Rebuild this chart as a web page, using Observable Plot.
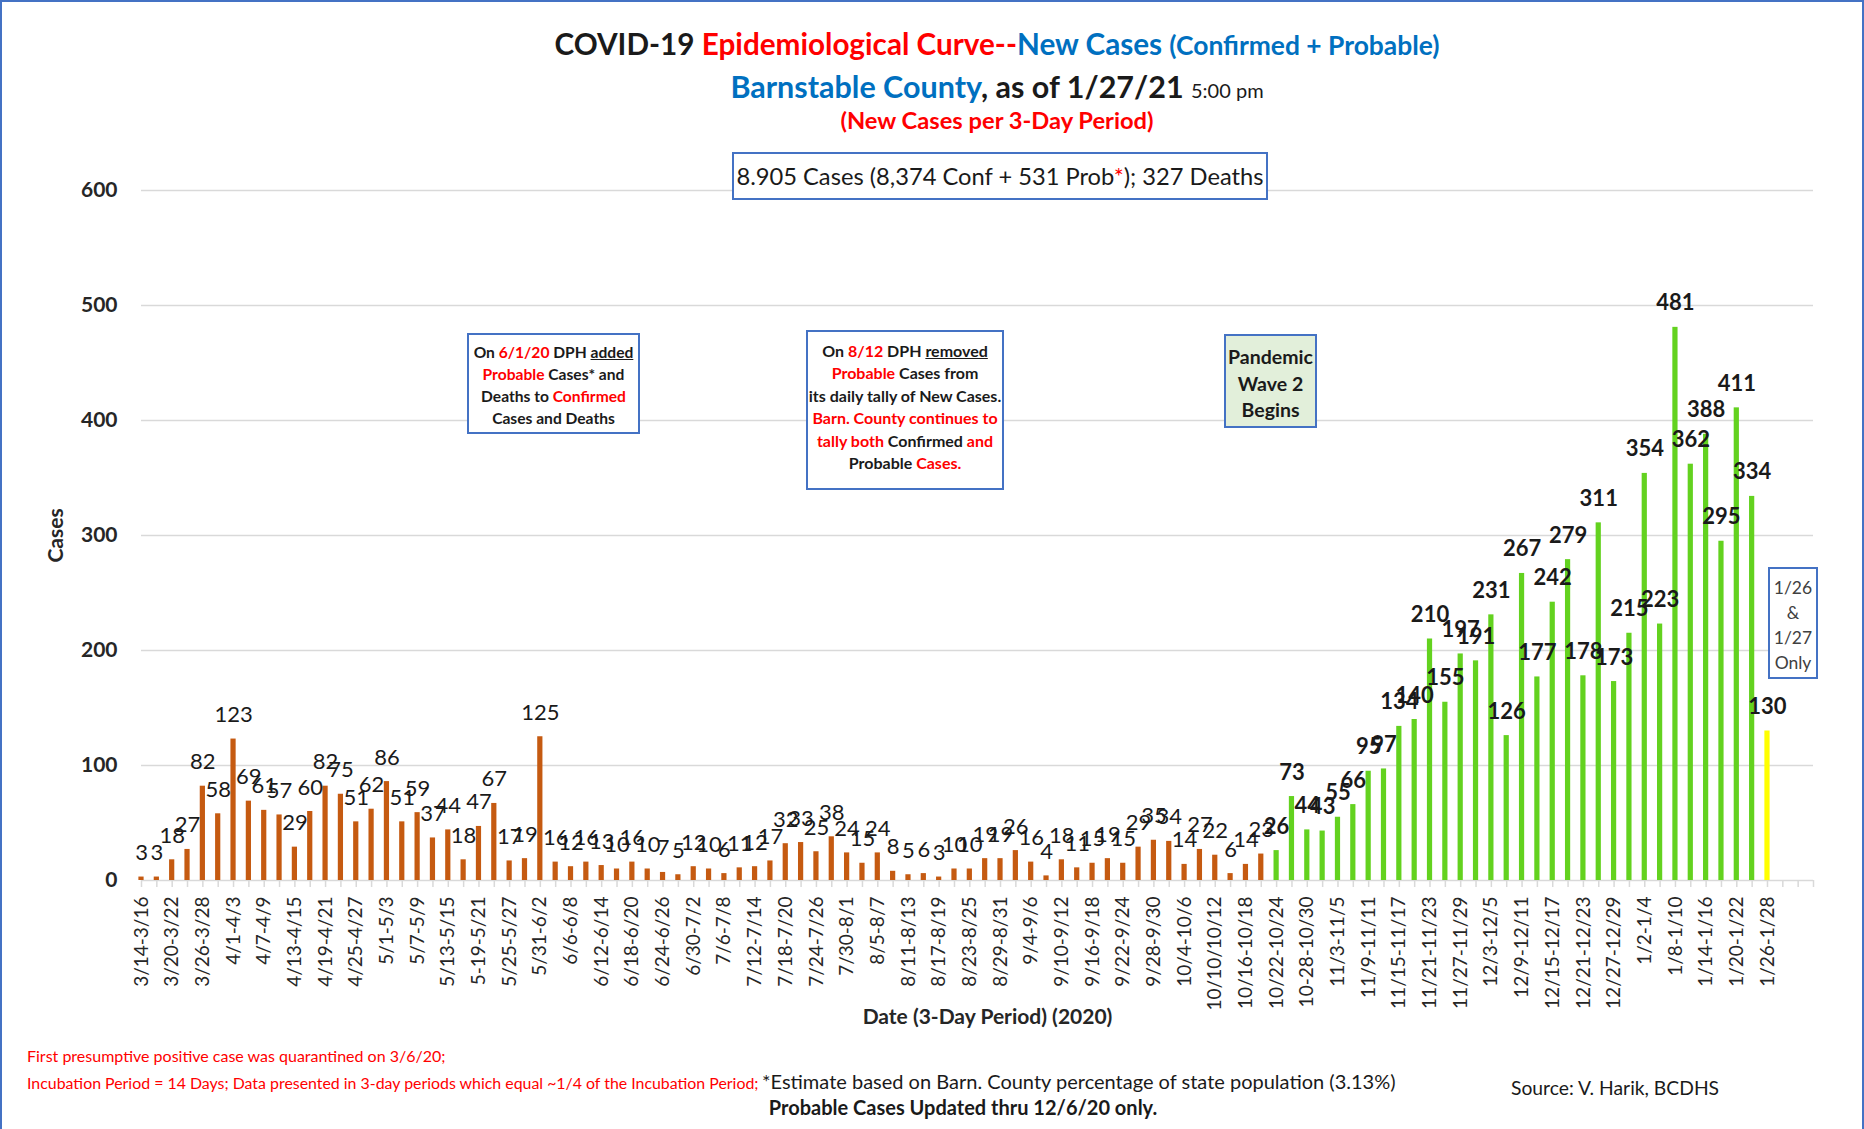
<!DOCTYPE html>
<html>
<head>
<meta charset="utf-8">
<script src="https://cdn.jsdelivr.net/npm/d3@7"></script>
<script src="https://cdn.jsdelivr.net/npm/@observablehq/plot@0.6"></script>
<style>
  html, body { margin: 0; padding: 0; background: #fff; }
  body { font-family: Lato, "Open Sans", sans-serif; color: #1a1a1a; }
  #wrap { position: relative; width: 1864px; height: 1129px; overflow: hidden; background: #fff; }
  .abs { position: absolute; white-space: nowrap; }
  .c { transform: translate(-50%, -50%); line-height: 1; }
  .r { color: #FF0000; }
  .b { color: #0070C0; }
  .k { color: #1a1a1a; }
  #border { left: 0; top: 0; width: 1864px; height: 1135px; box-sizing: border-box; border: 2px solid #4472C4; }
  #chart { left: 0; top: 140px; }
  .box { box-sizing: border-box; border: 2px solid #4472C4; background: #fff; text-align: center; font-weight: bold; color: #1a1a1a; }
  .box div { white-space: nowrap; }
</style>
</head>
<body>
<div id="wrap">
  <div class="abs" id="border"></div>
  <div class="abs" id="chart"></div>

  <div class="abs c" style="left:997px; top:44px; font-weight:bold; font-size:29.7px;">
    <span class="k">COVID-19 </span><span class="r">Epidemiological Curve--</span><span class="b">New Cases </span><span class="b" style="font-size:26.4px;">(Confirmed + Probable)</span>
  </div>
  <div class="abs c" style="left:997px; top:86px; font-weight:bold; font-size:30.5px;">
    <span class="b">Barnstable County</span><span class="k">, as of 1/27/21 </span><span class="k" style="font-weight:normal; font-size:20px;">5:00 pm</span>
  </div>
  <div class="abs c r" style="left:997px; top:121px; font-weight:bold; font-size:23.7px;">(New Cases per 3-Day Period)</div>

  <div class="abs box" style="left:732px; top:152px; width:536px; height:48px; font-weight:normal; font-size:23.7px; line-height:44px;">
    8.905 Cases (8,374 Conf + 531 Prob<span class="r">*</span>); 327 Deaths
  </div>

  <div class="abs box" style="left:467px; top:333px; width:173px; height:101px; font-size:15.6px; line-height:22px; padding-top:6px;">
    <div>On <span class="r">6/1/20</span> DPH <u>added</u></div>
    <div><span class="r">Probable</span> Cases* and</div>
    <div>Deaths to <span class="r">Confirmed</span></div>
    <div>Cases and Deaths</div>
  </div>

  <div class="abs box" style="left:806px; top:330px; width:198px; height:160px; font-size:16px; line-height:22.4px; padding-top:8px;">
    <div>On <span class="r">8/12</span> DPH <u>removed</u></div>
    <div><span class="r">Probable</span> Cases from</div>
    <div>its daily tally of New Cases.</div>
    <div class="r">Barn. County continues to</div>
    <div><span class="r">tally both</span> Confirmed <span class="r">and</span></div>
    <div>Probable <span class="r">Cases.</span></div>
  </div>

  <div class="abs box" style="left:1224px; top:334px; width:93px; height:94px; font-size:19.5px; line-height:26.5px; padding-top:8px; background:#E2EFDA;">
    <div>Pandemic</div>
    <div>Wave 2</div>
    <div>Begins</div>
  </div>

  <div class="abs box" style="left:1768px; top:567px; width:50px; height:112px; font-size:17.5px; line-height:25px; padding-top:6px; font-weight:normal; color:#404040;">
    <div>1/26</div>
    <div>&amp;</div>
    <div>1/27</div>
    <div>Only</div>
  </div>

  <div class="abs r" style="left:27px; top:1047px; font-size:16px; line-height:18px;">First presumptive positive case was quarantined on 3/6/20;</div>
  <div class="abs r" style="left:27px; top:1074px; font-size:15.9px; line-height:18px;">Incubation Period = 14 Days; Data presented in 3-day periods which equal ~1/4 of the Incubation Period;</div>
  <div class="abs k" style="left:762px; top:1070px; font-size:20px; line-height:22px;">*Estimate based on Barn. County percentage of state population (3.13%)</div>
  <div class="abs k" style="left:1511px; top:1077px; font-size:19.3px; line-height:22px;">Source: V. Harik, BCDHS</div>
  <div class="abs c k" style="left:963px; top:1107px; font-size:20px; font-weight:bold;">Probable Cases Updated thru 12/6/20 only.</div>
</div>

<script>
// ---- Data ----
const periods = [
  "3/14-3/16","3/17-3/19","3/20-3/22","3/23-3/25","3/26-3/28","3/29-3/31",
  "4/1-4/3","4/4-4/6","4/7-4/9","4/10-4/12","4/13-4/15","4/16-4/18",
  "4/19-4/21","4/22-4/24","4/25-4/27","4/28-4/30","5/1-5/3","5/4-5/6",
  "5/7-5/9","5/10-5/12","5/13-5/15","5/16-5/18","5-19-5/21","5/22-5/24",
  "5/25-5/27","5/28-5/30","5/31-6/2","6/3-6/5","6/6-6/8","6/9-6/11",
  "6/12-6/14","6/15-6/17","6/18-6/20","6/21-6/23","6/24-6/26","6/27-6/29",
  "6/30-7/2","7/3-7/5","7/6-7/8","7/9-7/11","7/12-7/14","7/15-7/17",
  "7/18-7/20","7/21-7/23","7/24-7/26","7/27-7/29","7/30-8/1","8/2-8/4",
  "8/5-8/7","8/8-8/10","8/11-8/13","8/14-8/16","8/17-8/19","8/20-8/22",
  "8/23-8/25","8/26-8/28","8/29-8/31","9/1-9/3","9/4-9/6","9/7-9/9",
  "9/10-9/12","9/13-9/15","9/16-9/18","9/19-9/21","9/22-9/24","9/25-9/27",
  "9/28-9/30","10/1-10/3","10/4-10/6","10/7-10/9","10/10/10/12","10/13-10/15",
  "10/16-10/18","10/19-10/21","10/22-10/24","10/25-10/27","10-28-10/30","10/31-11/2",
  "11/3-11/5","11/6-11/8","11/9-11/11","11/12-11/14","11/15-11/17","11/18-11/20",
  "11/21-11/23","11/24-11/26","11/27-11/29","11/30-12/2","12/3-12/5","12/6-12/8",
  "12/9-12/11","12/12-12/14","12/15-12/17","12/18-12/20","12/21-12/23","12/24-12/26",
  "12/27-12/29","12/30-1/1","1/2-1/4","1/5-1/7","1/8-1/10","1/11-1/13",
  "1/14-1/16","1/17-1/19","1/20-1/22","1/23-1/25","1/26-1/28"
];
const cases = [
  3, 3, 18, 27, 82, 58,
  123, 69, 61, 57, 29, 60,
  82, 75, 51, 62, 86, 51,
  59, 37, 44, 18, 47, 67,
  17, 19, 125, 16, 12, 16,
  13, 10, 16, 10, 7, 5,
  12, 10, 6, 11, 12, 17,
  32, 33, 25, 38, 24, 15,
  24, 8, 5, 6, 3, 10,
  10, 19, 19, 26, 16, 4,
  18, 11, 15, 19, 15, 29,
  35, 34, 14, 27, 22, 6,
  14, 23, 26, 73, 44, 43,
  55, 66, 95, 97, 134, 140,
  210, 155, 197, 191, 231, 126,
  267, 177, 242, 279, 178, 311,
  173, 215, 354, 223, 481, 362,
  388, 295, 411, 334, 130
];
const emptySlots = ["(empty 1)", "(empty 2)", "(empty 3)"]; // unused categories at the end of the axis
const wave2From = "10/22-10/24";     // first period drawn in green
const partialPeriod = "1/26-1/28";   // partial period drawn in yellow
const phases = ["wave1", "wave2", "partial"];
const phaseColors = ["#C55A11", "#63D21F", "#FFFF00"];
const yTicks = [0, 100, 200, 300, 400, 500, 600];
const xTitle = "Date (3-Day Period) (2020)";
const yTitle = "Cases";

// ---- Build table ----
const wave2Index = periods.indexOf(wave2From);
const rows = periods.map((p, i) => ({
  period: p,
  cases: cases[i],
  phase: p === partialPeriod ? "partial" : (i >= wave2Index ? "wave2" : "wave1")
}));
const xDomain = periods.concat(emptySlots);

const W = 1864, H = 895, mL = 141, mR = 51, mT = 50, mB = 155;
const step = (W - mR - mL) / (xDomain.length - 1);

const chart = Plot.plot({
  width: W, height: H,
  marginLeft: mL, marginRight: mR, marginTop: mT, marginBottom: mB,
  style: { fontFamily: "Lato, 'Open Sans', sans-serif", color: "#262626", background: "transparent", overflow: "visible" },
  x: { type: "band", domain: xDomain, range: [mL - step / 2, W - mR + step / 2], paddingInner: 0.66, paddingOuter: 0.33 },
  y: { domain: [0, 600], range: [H - mB, mT] },
  color: { domain: phases, range: phaseColors },
  marks: [
    Plot.gridY({ ticks: yTicks, stroke: "#D9D9D9", strokeOpacity: 1, strokeWidth: 1.5 }),
    Plot.axisX({
      tickSize: 7, tickPadding: 9, tickRotate: -90, stroke: "#D9D9D9", strokeWidth: 1.5,
      fill: "#262626", fontSize: 19,
      tickFormat: d => { const i = periods.indexOf(d); return i >= 0 && i % 2 === 0 ? d : ""; },
      label: null
    }),
    Plot.axisY({
      ticks: yTicks, tickSize: 0, tickPadding: 24, fontSize: 21, fontWeight: "bold", fill: "#262626",
      label: null
    }),
    Plot.text([xTitle], { frameAnchor: "bottom", text: d => d, dy: 137, dx: 10, lineAnchor: "middle", fontSize: 21, fontWeight: "bold", fill: "#262626" }),
    Plot.text([yTitle], { frameAnchor: "left", text: d => d, dx: -85, rotate: -90, textAnchor: "middle", lineAnchor: "middle", fontSize: 21, fontWeight: "bold", fill: "#262626" }),
    Plot.barY(rows, { x: "period", y: "cases", fill: "phase" }),
    Plot.text(rows.filter(d => d.phase === "wave1"), {
      x: "period", y: "cases", text: d => String(d.cases),
      lineAnchor: "bottom", dy: -17, fontSize: 22, fill: "#1a1a1a"
    }),
    Plot.text(rows.filter(d => d.phase !== "wave1"), {
      x: "period", y: "cases", text: d => String(d.cases),
      lineAnchor: "bottom", dy: -17, fontSize: 22, fontWeight: "bold", fill: "#1a1a1a"
    })
  ]
});

document.getElementById("chart").appendChild(chart);
</script>
</body>
</html>
